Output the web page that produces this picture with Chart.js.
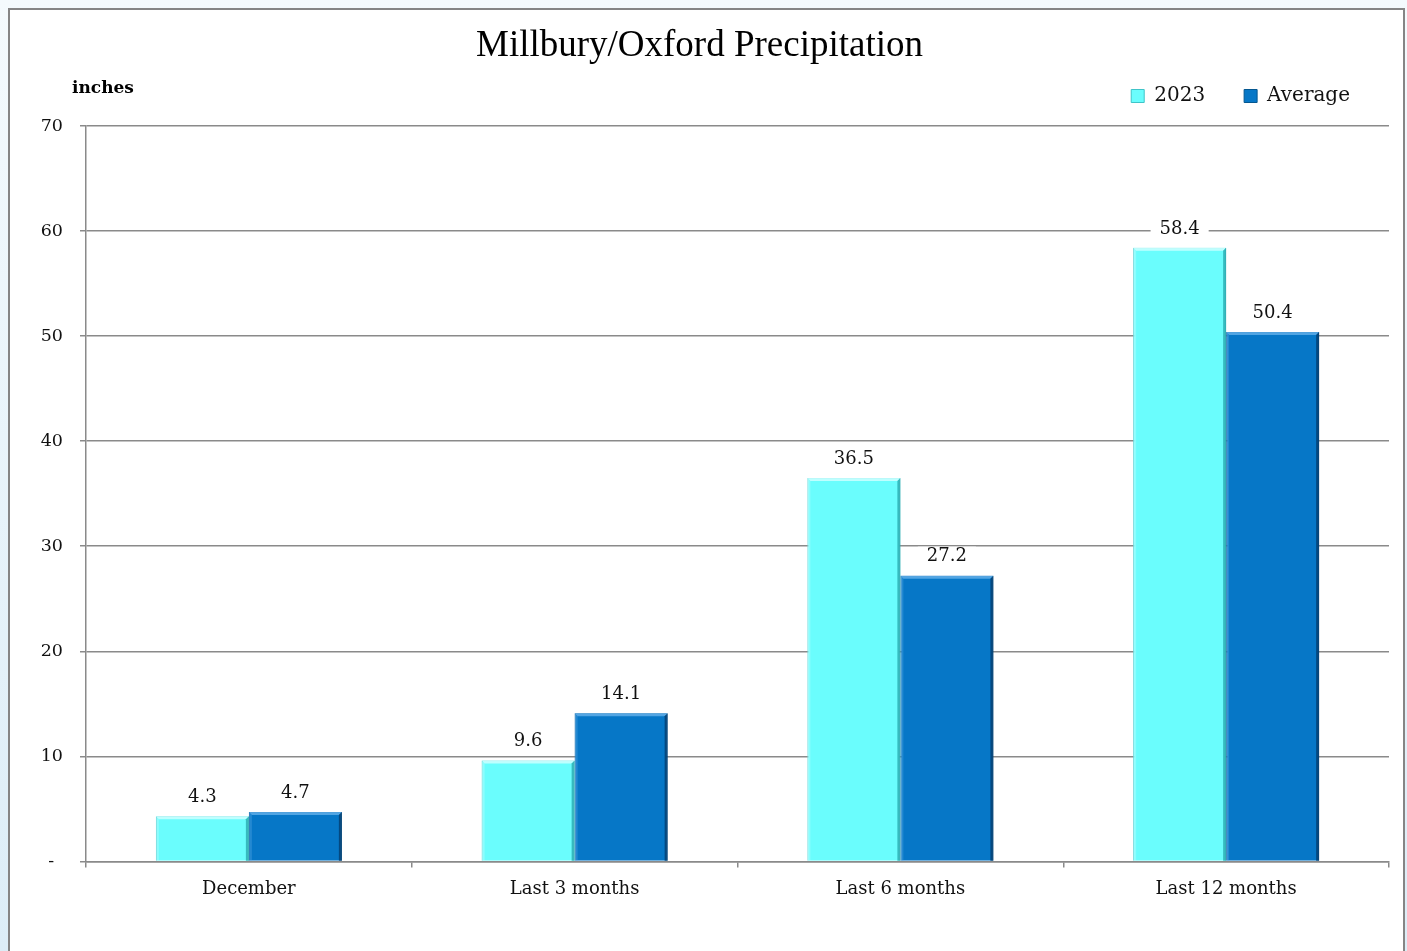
<!DOCTYPE html>
<html>
<head>
<meta charset="utf-8">
<script src="https://cdn.jsdelivr.net/npm/chart.js@4/dist/chart.umd.min.js"></script>
<style>
  html, body { margin: 0; padding: 0; overflow: hidden; }
  body { width: 1407px; height: 951px; background: linear-gradient(to bottom, #f4fafd, #dcedf7); }
  #frame { position: absolute; left: 8px; top: 8px; width: 1393px; height: 960px; border: 2px solid #858585; background: #ffffff; }
  #holder { position: relative; width: 1393px; height: 941px; }
</style>
</head>
<body>
<div id="frame"><div id="holder"><canvas id="c"></canvas></div></div>
<script>
const categories = ['December', 'Last 3 months', 'Last 6 months', 'Last 12 months'];
const series2023 = [4.3, 9.6, 36.5, 58.4];
const seriesAverage = [4.7, 14.1, 27.2, 50.4];
const seriesNames = ['2023', 'Average'];
const yTicks = [0, 10, 20, 30, 40, 50, 60, 70];
const chartTitle = 'Millbury/Oxford Precipitation';
const unitLabel = 'inches';

const SERIF = '"DejaVu Serif", serif';
const GRID = '#8a8a8a';
const TEXT = '#111111';
const bevelColors = [
  { light: 'rgba(200,255,255,0.9)', dark: 'rgba(40,170,175,0.8)' },
  { light: 'rgba(90,170,230,0.9)', dark: 'rgba(2,60,110,0.8)' }
];

const bevel = {
  id: 'bevel',
  afterDatasetsDraw(chart) {
    const ctx = chart.ctx;
    const b = 3;
    ctx.save();
    chart.data.datasets.forEach((ds, di) => {
      const meta = chart.getDatasetMeta(di);
      const c = bevelColors[di];
      meta.data.forEach((bar) => {
        const l = bar.x - bar.width / 2, r = bar.x + bar.width / 2;
        const t = bar.y, bt = bar.base;
        ctx.fillStyle = c.light;
        ctx.beginPath();
        ctx.moveTo(l, t); ctx.lineTo(r, t); ctx.lineTo(r - b, t + b); ctx.lineTo(l + b, t + b); ctx.closePath(); ctx.fill();
        ctx.globalAlpha = 0.4;
        ctx.beginPath();
        ctx.moveTo(l, t); ctx.lineTo(l + b, t + b); ctx.lineTo(l + b, bt); ctx.lineTo(l, bt); ctx.closePath(); ctx.fill();
        ctx.globalAlpha = 1;
        ctx.fillStyle = c.dark;
        ctx.beginPath();
        ctx.moveTo(r, t); ctx.lineTo(r - b, t + b); ctx.lineTo(r - b, bt); ctx.lineTo(r, bt); ctx.closePath(); ctx.fill();
      });
    });
    ctx.restore();
  }
};

const valueLabels = {
  id: 'valueLabels',
  afterDatasetsDraw(chart) {
    const ctx = chart.ctx;
    ctx.save();
    ctx.font = '18px ' + SERIF;
    ctx.textAlign = 'center';
    ctx.textBaseline = 'middle';
    chart.data.datasets.forEach((ds, di) => {
      const meta = chart.getDatasetMeta(di);
      meta.data.forEach((bar, i) => {
        const txt = ds.data[i].toFixed(1);
        const y = bar.y - 19;
        const w = ctx.measureText(txt).width + 18;
        ctx.fillStyle = '#ffffff';
        ctx.fillRect(bar.x - w / 2, y - 10, w, 20);
        ctx.fillStyle = TEXT;
        ctx.fillText(txt, bar.x, y);
      });
    });
    ctx.restore();
  }
};

const unitText = {
  id: 'unitText',
  afterDraw(chart) {
    const ctx = chart.ctx;
    const a = chart.chartArea;
    ctx.save();
    ctx.font = 'bold 17px ' + SERIF;
    ctx.fillStyle = '#000000';
    ctx.textAlign = 'left';
    ctx.textBaseline = 'middle';
    ctx.fillText(unitLabel, a.left - 14, a.top - 37);
    ctx.restore();
  }
};

new Chart(document.getElementById('c'), {
  type: 'bar',
  data: {
    labels: categories,
    datasets: [
      { label: seriesNames[0], data: series2023, backgroundColor: '#6afdfd', borderColor: '#3fc4c8', borderWidth: 1 },
      { label: seriesNames[1], data: seriesAverage, backgroundColor: '#0677c7', borderColor: '#045790', borderWidth: 1 }
    ]
  },
  options: {
    responsive: true,
    maintainAspectRatio: false,
    animation: false,
    layout: { padding: { left: 0, right: 14, top: 0, bottom: 40 } },
    datasets: { bar: { categoryPercentage: 0.571, barPercentage: 1.0 } },
    plugins: {
      title: {
        display: true, text: chartTitle, color: '#000000',
        font: { family: '"Liberation Serif", "Times New Roman", serif', size: 37, weight: 'normal', lineHeight: 1.2 },
        padding: { top: 13.8, bottom: -21.2 }
      },
      subtitle: { display: true, text: '', weight: 500, font: { size: 10, lineHeight: 1 }, padding: 0 },
      legend: {
        position: 'top', align: 'end',
        labels: { font: { family: SERIF, size: 20 }, color: TEXT, boxWidth: 13, boxHeight: 13, padding: 39 }
      },
      tooltip: { enabled: false }
    },
    scales: {
      x: {
        offset: true,
        grid: { display: true, drawOnChartArea: false, drawTicks: true, tickLength: 6, color: GRID, lineWidth: 1.5, offset: true },
        border: { display: true, color: GRID, width: 1.5 },
        ticks: { font: { family: SERIF, size: 18 }, color: TEXT, padding: 11, maxRotation: 0 }
      },
      y: {
        min: 0, max: 70,
        afterFit(scale) { scale.width = 76; },
        afterBuildTicks(scale) { scale.ticks = yTicks.map(v => ({ value: v })); },
        grid: { color: GRID, lineWidth: 1.5, tickLength: 6, drawTicks: true },
        border: { display: true, color: GRID, width: 1.5 },
        ticks: {
          font: { family: SERIF, size: 17.5 }, color: TEXT, padding: 17,
          callback: (v) => v === 0 ? '-\u2002' : String(v)
        }
      }
    }
  },
  plugins: [bevel, valueLabels, unitText]
});
</script>
</body>
</html>
